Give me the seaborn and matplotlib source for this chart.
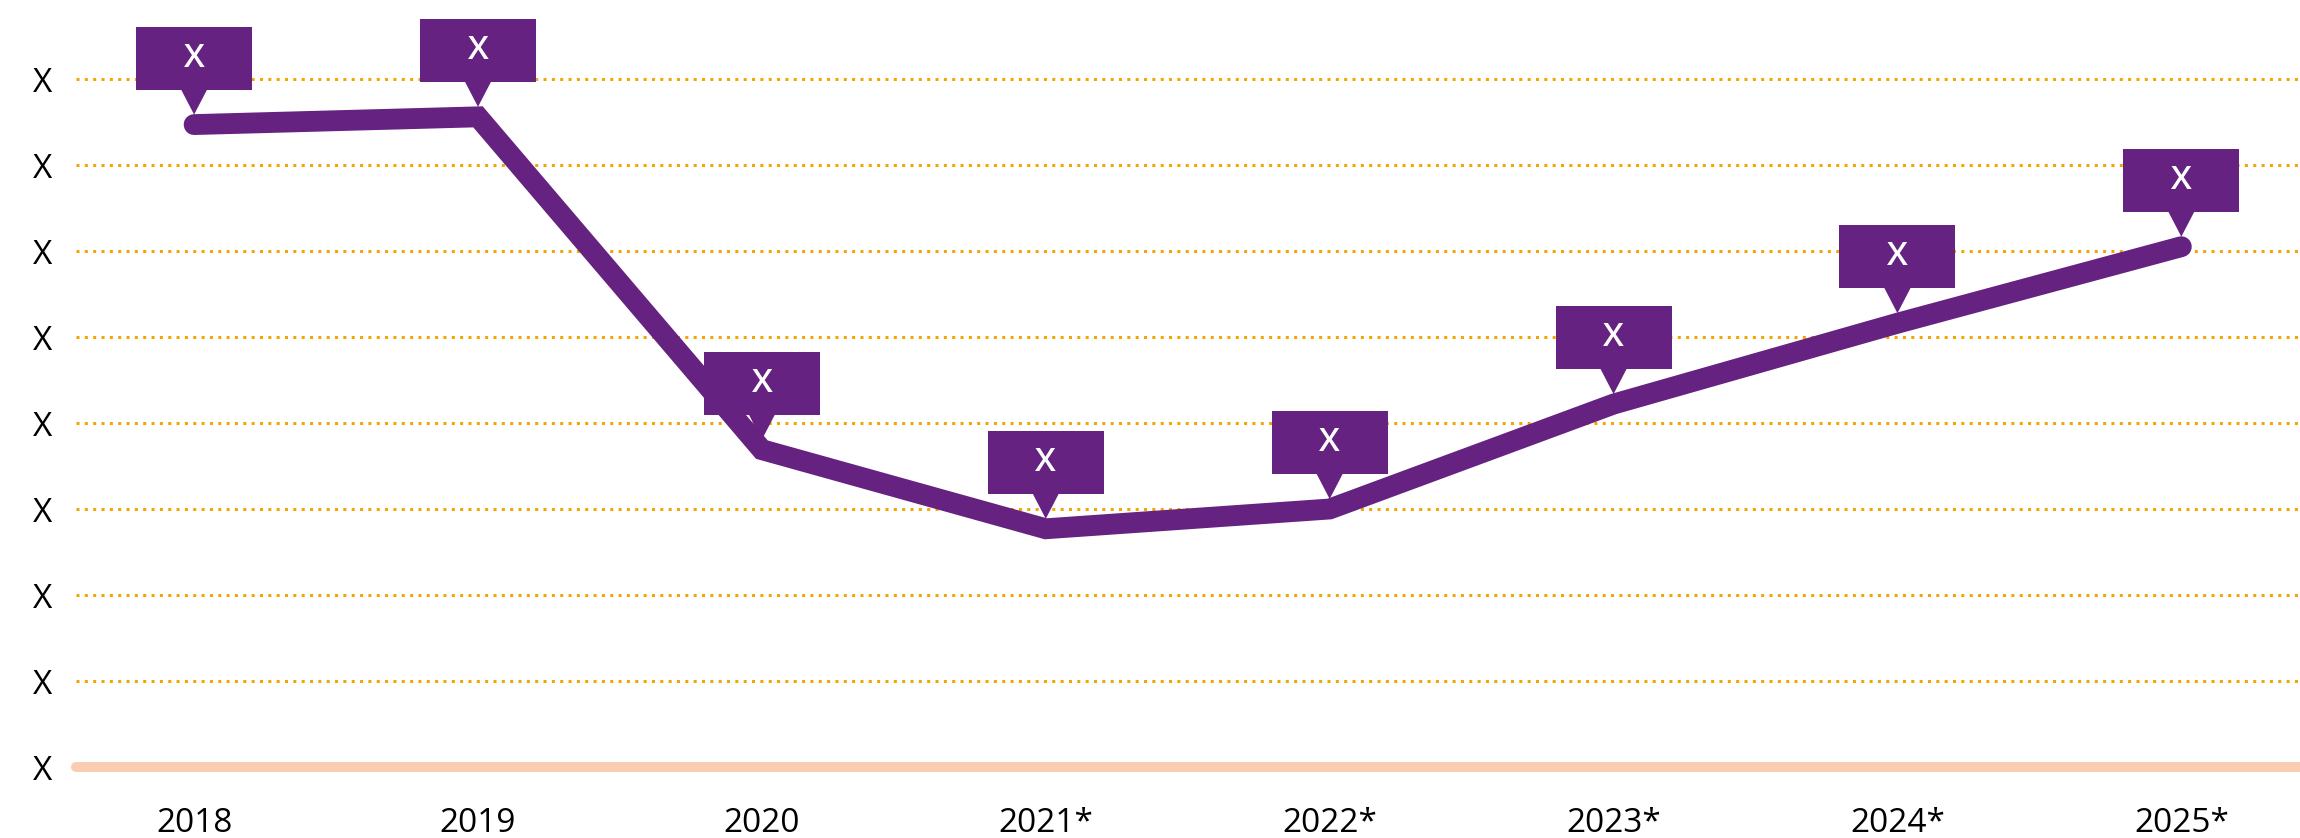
import matplotlib
matplotlib.use("Agg")
import matplotlib.pyplot as plt
import matplotlib.transforms as mtransforms
from matplotlib.patches import Polygon, Rectangle
import seaborn as sns
import pandas as pd

# ---- data ----
years = ["2018", "2019", "2020", "2021*", "2022*", "2023*", "2024*", "2025*"]
values = [7.47, 7.56, 3.69, 2.77, 3.00, 4.22, 5.16, 6.05]
point_labels = ["X", "X", "X", "X", "X", "X", "X", "X"]
y_ticks = [0, 1, 2, 3, 4, 5, 6, 7, 8]
y_tick_labels = ["X", "X", "X", "X", "X", "X", "X", "X", "X"]

PURPLE = "#652280"
ORANGE = "#F5A500"
PEACH = "#F9CDB0"

sns.set_style("white")
plt.rcParams["font.family"] = ["Open Sans", "DejaVu Sans"]

fig = plt.figure(figsize=(23, 8.38), dpi=100)
ax = fig.add_axes([76 / 2300, (838 - 767) / 838, 1 - 76 / 2300, 767 / 838])

df = pd.DataFrame({"idx": list(range(len(years))), "value": values})
sns.lineplot(data=df, x="idx", y="value", ax=ax, color=PURPLE, linewidth=15,
             sort=False, solid_capstyle="round", solid_joinstyle="miter", zorder=3)

ax.set_xlim(-0.416, 7.418)
ax.set_ylim(0, 767 / 86)
ax.set_xticks(range(len(years)))
ax.set_xticklabels(years)
ax.set_yticks(y_ticks)
ax.set_yticklabels(y_tick_labels)
ax.set_xlabel("")
ax.set_ylabel("")
for s in ax.spines.values():
    s.set_visible(False)
ax.tick_params(axis="both", length=0, labelsize=24, colors="black")
ax.tick_params(axis="y", pad=17)
ax.tick_params(axis="x", pad=29)
ax.yaxis.grid(True, color=ORANGE, linestyle=(0, (1, 1.78)), linewidth=2.16)
ax.xaxis.grid(False)
ax.set_axisbelow(True)

# baseline
ax.axhline(0, color=PEACH, linewidth=7.2, solid_capstyle="round", clip_on=False, zorder=2)

# callouts (sizes in inches at dpi 100)
bw, bh = 1.16, 0.63
tip_off = 0.10
gap = 0.25
tri_half = 0.135
for i, (v, lab) in enumerate(zip(values, point_labels)):
    tr = fig.dpi_scale_trans + mtransforms.ScaledTranslation(i, v, ax.transData)
    base = tip_off + gap
    ax.add_patch(Rectangle((-bw / 2, base), bw, bh, transform=tr, facecolor=PURPLE,
                           edgecolor="none", zorder=4, clip_on=False))
    ax.add_patch(Polygon([(-tri_half, base + 0.01), (tri_half, base + 0.01), (0, tip_off)],
                         closed=True, transform=tr, facecolor=PURPLE, edgecolor="none",
                         zorder=4, clip_on=False))
    ax.text(0, base + bh / 2, lab, transform=tr, ha="center", va="center",
            color="white", fontsize=24, fontweight="semibold", zorder=5)

fig.savefig("out.png", dpi=100)
